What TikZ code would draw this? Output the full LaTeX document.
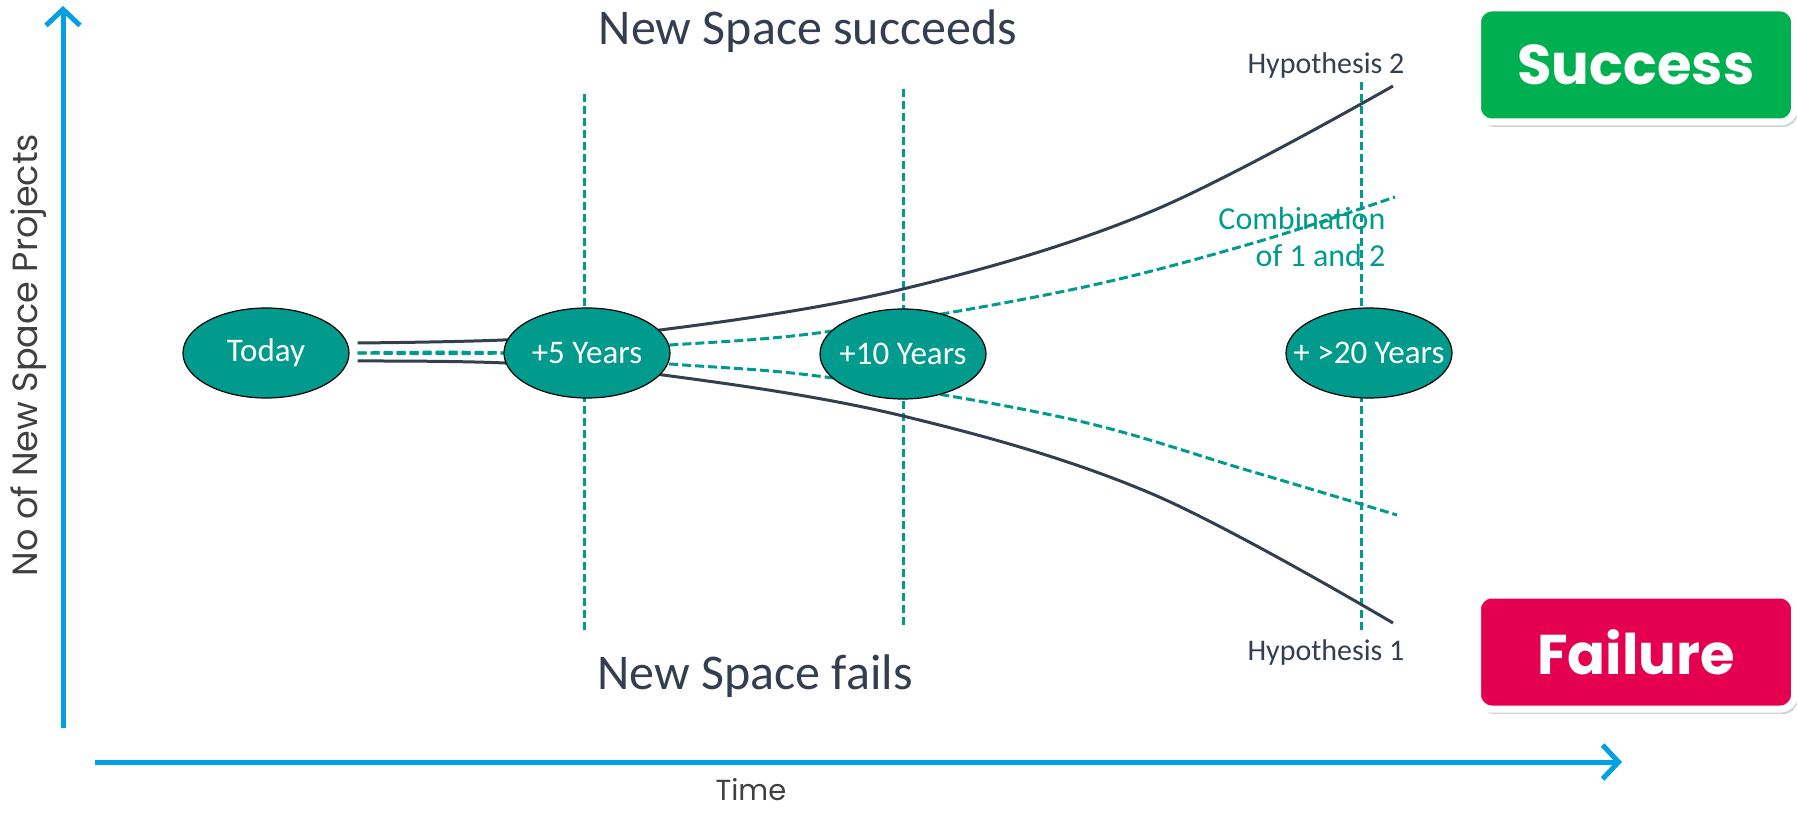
\documentclass[tikz,border=0pt]{standalone}
\usepackage{fontspec}
\setmainfont{Carlito}
\newfontfamily\axisfont{Poppins}
\usetikzlibrary{shapes,arrows.meta,positioning,backgrounds,shadows}
\definecolor{axisblue}{HTML}{00A0E3}
\definecolor{nsteal}{HTML}{009B8D}
\definecolor{nsdark}{HTML}{333F50}
\definecolor{nsgray}{HTML}{404040}
\definecolor{nsgreen}{HTML}{00B050}
\definecolor{nsred}{HTML}{E5004F}
\tikzset{x=1pt, y=-1pt, >={Straight Barb[length=16pt,width=34pt]}}
\tikzstyle{stage} = [draw=black, line width=1.2pt, fill=nsteal, ellipse, minimum width=166pt, minimum height=90pt, inner xsep=-30pt, text=white, font=\fontsize{33}{33}\selectfont]
\tikzstyle{axis} = [axisblue, line width=5pt, ->]
\tikzstyle{hyp} = [nsdark, line width=3pt]
\tikzstyle{combo} = [nsteal, line width=3pt, dash pattern=on 9pt off 4pt]
\tikzstyle{milestone} = [nsteal, line width=3pt, dash pattern=on 8pt off 4pt]
\tikzstyle{outcome} = [draw=white, line width=7pt, rounded corners=14pt, minimum width=317pt, minimum height=114pt, text=white, font=\axisfont\bfseries\fontsize{56}{56}\selectfont, drop shadow={shadow xshift=3pt, shadow yshift=-5pt, opacity=0.35}]
\tikzstyle{title} = [text=nsdark, font=\fontsize{50}{50}\selectfont]
\tikzstyle{axislabel} = [text=nsgray, font=\axisfont\fontsize{35}{35}\selectfont]
\tikzstyle{hyplabel} = [text=nsdark, font=\fontsize{30}{30}\selectfont]

\begin{document}
\begin{tikzpicture}
	\useasboundingbox (0,0) rectangle (1797,813);

	\node [stage] (today) at (266,353) {Today};
	\node [stage] (five) at (587,353) {+5 Years};
	\node [stage] (ten) at (903,354) {+10 Years};
	\node [stage] (twenty) at (1369,353) {+ >20 Years};

	\node [title] (succeeds) at (808,31) {New Space succeeds};
	\node [title] (fails) at (755,676) {New Space fails};
	\node [hyplabel] (hyp2) at (1326,66) {Hypothesis 2};
	\node [hyplabel] (hyp1) at (1326,652) {Hypothesis 1};
	\node [text=nsteal, font=\fontsize{32}{37}\selectfont, align=right, anchor=east] (combination) at (1389,237) {Combination\\of 1 and 2};

	\node [outcome, fill=nsgreen] (success) at (1636,65) {Success};
	\node [outcome, fill=nsred] (failure) at (1636,652) {Failure};

	\coordinate (ybase) at (63,728);
	\coordinate (ytip) at (63,6);
	\coordinate (xbase) at (95,762);
	\coordinate (xtip) at (1622,762);
	\draw [axis] (ybase) -- (ytip);
	\draw [axis] (xbase) -- (xtip);
	\node [axislabel, rotate=90] (projects) at (29,355) {No of New Space Projects};
	\node [axislabel, font=\axisfont\fontsize{29}{29}\selectfont] (time) at (751,790) {Time};

	\coordinate (h2end) at (1393,86);
	\coordinate (h1end) at (1393,623);
	\coordinate (c2end) at (1395,197);
	\coordinate (c1end) at (1397,515);

	\begin{scope}[on background layer]
		\draw [milestone] (584,94) -- (584,630);
		\draw [milestone] (903,89) -- (903,628);
		\draw [milestone] (1361,82) -- (1361,634);
		\draw [hyp] plot [smooth, tension=0.6] coordinates {([xshift=8pt,yshift=10pt]today.east) (503,340) (660,330) (903,289) (1150,212) (h2end)};
		\draw [hyp] plot [smooth, tension=0.6] coordinates {([xshift=8pt,yshift=-8pt]today.east) (505,363) (663,375) (903,416) (1150,493) (h1end)};
		\draw [combo] plot [smooth, tension=0.6] coordinates {([xshift=8pt]today.east) (505,353) (670,345) (833,331) (1070,290) (1250,244) (c2end)};
		\draw [combo] plot [smooth, tension=0.6] coordinates {([xshift=8pt]today.east) (505,353) (670,364) (833,378) (1070,419) (1250,471) (c1end)};
	\end{scope}
\end{tikzpicture}
\end{document}
